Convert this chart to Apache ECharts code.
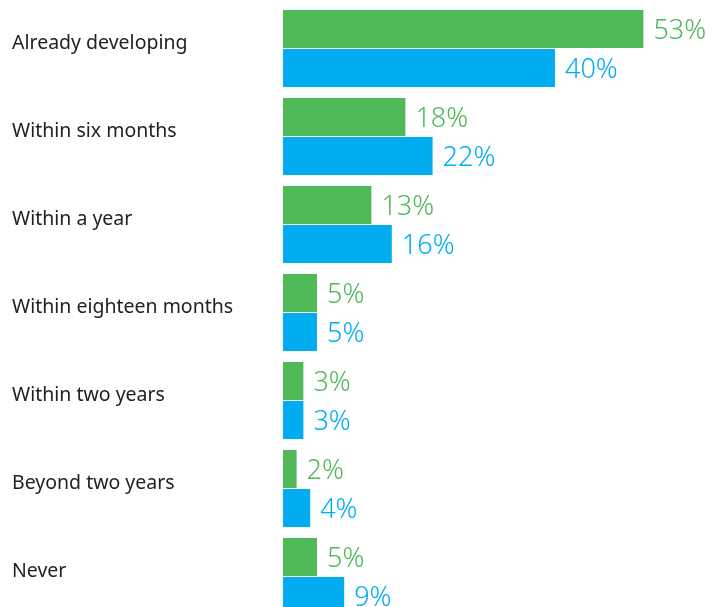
<!DOCTYPE html>
<html><head><meta charset="utf-8">
<script src="https://cdn.jsdelivr.net/npm/echarts@6/dist/echarts.min.js"></script>
<style>html,body{margin:0;padding:0;background:#fff}#c{width:724px;height:607px}</style>
</head><body><div id="c"></div>
<script>
const categories = ['Already developing','Within six months','Within a year','Within eighteen months','Within two years','Beyond two years','Never'];
const greenValues = [53,18,13,5,3,2,5];
const blueValues = [40,22,16,5,3,4,9];
const GREEN = '#4fb857', BLUE = '#00adef';
const chart = echarts.init(document.getElementById('c'));
const lbl = (color) => ({show:true, position:'right', distance:10, offset:[0,2], formatter:'{c}%', color:color, fontFamily:'Noto Sans', fontSize:27, fontWeight:300});
chart.setOption({
  animation:false,
  grid:{left:283, top:4.5, width:680, height:616, containLabel:false, outerBoundsMode:'none'},
  xAxis:{type:'value', min:0, max:100, show:false},
  yAxis:{type:'category', data:categories, inverse:true,
    axisLine:{show:false}, axisTick:{show:false},
    axisLabel:{align:'left', margin:271, color:'#222', fontFamily:'Noto Sans', fontSize:19.5, verticalAlign:'bottom', lineHeight:10}},
  series:[
    {type:'bar', data:greenValues, itemStyle:{color:GREEN}, barWidth:38, barGap:'2.6%', label:lbl(GREEN)},
    {type:'bar', data:blueValues, itemStyle:{color:BLUE}, barWidth:38, barGap:'2.6%', label:lbl(BLUE)}
  ]
});
</script></body></html>
